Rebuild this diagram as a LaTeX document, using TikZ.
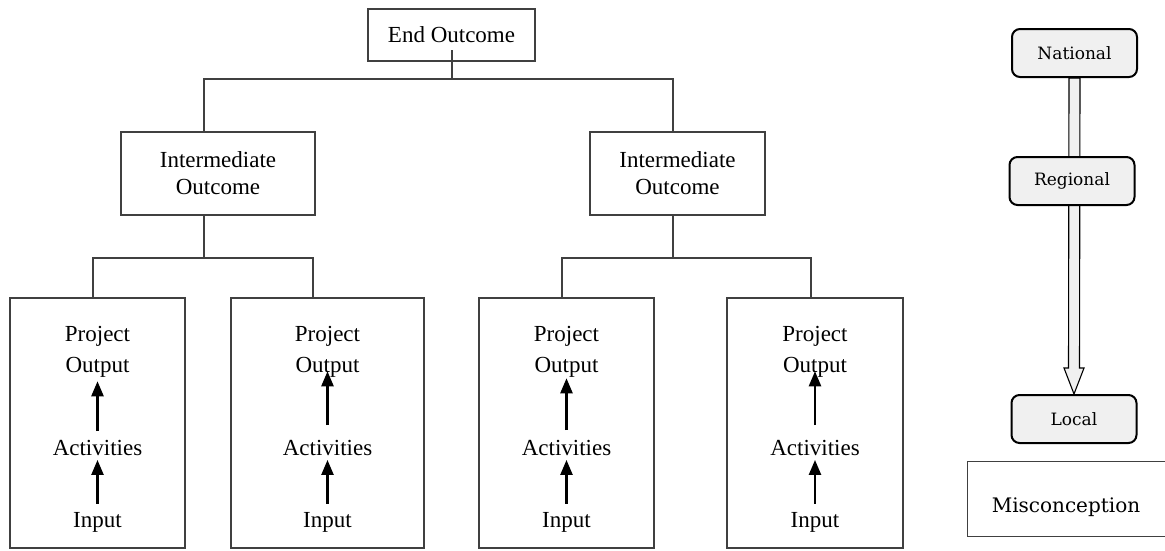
\documentclass[tikz,border=0pt]{standalone}
\usepackage{fontspec}
\setmainfont{Liberation Serif}
\newfontfamily\panelfont{DejaVu Serif}
\usetikzlibrary{arrows.meta,calc}
\pgfdeclarelayer{background}
\pgfsetlayers{background,main}
\definecolor{boxgray}{HTML}{404040}
\definecolor{panelfill}{HTML}{F0F0F0}
\begin{document}
\begin{tikzpicture}[x=1pt,y=-1pt,
  treebox/.style={draw=boxgray, line width=2pt, inner sep=0pt, align=center,
    font=\fontsize{23}{27}\selectfont},
  conn/.style={draw=boxgray, line width=2pt},
  label/.style={inner sep=0pt, font=\fontsize{23}{27}\selectfont},
  uparrow/.style={line width=2.4pt, -{Triangle[length=15pt,width=12pt]}},
  level/.style={draw=black, line width=2pt, fill=panelfill, rounded corners=8pt,
    minimum width=125pt, minimum height=48pt, inner sep=0pt,
    font=\panelfont\fontsize{17}{20}\selectfont},
  misline/.style={draw=boxgray, line width=1.3pt}
]
\useasboundingbox (0,0) rectangle (1165,550);

% results chain
\node[treebox, minimum width=167pt, minimum height=52pt] (eo) at (451.5,35) {End Outcome};
\node[treebox, minimum width=194pt, minimum height=83pt] (il) at (218,173.5) {Intermediate\\Outcome};
\node[treebox, minimum width=175pt, minimum height=83pt] (ir) at (677.5,173.5) {Intermediate\\Outcome};

\foreach \i/\cx/\w in {1/97.5/175, 2/327.5/193, 3/566.5/175, 4/815/176}{
  \node[treebox, minimum width=\w pt, minimum height=250pt] (p\i) at (\cx,423) {};
  \node[label] (proj\i) at (\cx,336) {Project};
  \node[label] (out\i)  at (\cx,367) {Output};
  \node[label] (act\i)  at (\cx,448) {Activities};
  \node[label] (in\i)   at (\cx,522) {Input};
}

% arrows inside the project boxes
\draw[uparrow, shorten <=9pt, shorten >=4pt] (act1.north) -- (out1.south);
\draw[uparrow, shorten <=15pt, shorten >=-6pt] (act2.north) -- (out2.south);
\draw[uparrow, shorten <=10pt, shorten >=1pt] (act3.north) -- (out3.south);
\draw[uparrow, shorten <=15pt, shorten >=-6pt] (act4.north) -- (out4.south);
\foreach \i in {1,...,4}{
  \draw[uparrow, shorten <=8pt, shorten >=4pt] (in\i.north) -- (act\i.south);
}

% tree connectors
\draw[conn] ([yshift=12pt]eo.south) -- ++(0,29) coordinate (j0);
\draw[conn] ([xshift=-14pt]il.north) |- (j0) -| ([xshift=-4.5pt]ir.north);
\draw[conn] ([xshift=-14pt]il.south) -- ++(0,42) coordinate (j1);
\draw[conn] ([xshift=-4.5pt]p1.north) |- (j1) -| ([xshift=-14.5pt]p2.north);
\draw[conn] ([xshift=-4.5pt]ir.south) -- ++(0,42) coordinate (j2);
\draw[conn] ([xshift=-4.5pt]p3.north) |- (j2) -| ([xshift=-4pt]p4.north);

% levels panel
\node[level] (nat) at (1074.5,53) {National};
\node[level] (reg) at (1072,181) {Regional};
\node[level] (loc) at (1074,419) {Local};
\begin{pgfonlayer}{background}
  \draw[fill=panelfill, line width=1.1pt]
    ($(nat.south)+(-5.5,0)$) -- ($(loc.north)+(-5.5,-26)$) -- ($(loc.north)+(-10,-26)$)
    -- (loc.north) -- ($(loc.north)+(10,-26)$) -- ($(loc.north)+(5.5,-26)$)
    -- ($(nat.south)+(5.5,0)$) -- cycle;
\end{pgfonlayer}

\node[minimum width=197pt, minimum height=74pt, inner sep=0pt,
  font=\panelfont\fontsize{20}{24}\selectfont] (mis) at (1066.5,499) {};
\node[font=\panelfont\fontsize{20}{24}\selectfont, inner sep=0pt] (mistext) at (1066,507) {Misconception};
\draw[misline] (mis.north east) -- (mis.north west) -- (mis.south west) -- (mis.south east);
\end{tikzpicture}
\end{document}
